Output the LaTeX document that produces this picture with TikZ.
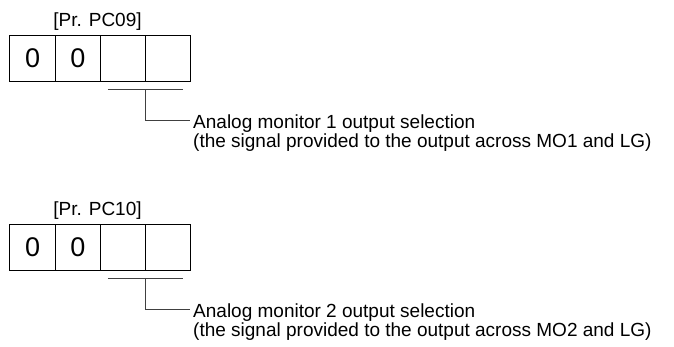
\documentclass[tikz,border=0pt]{standalone}
\usepackage{fontspec}
\setmainfont{Liberation Sans}
\usetikzlibrary{positioning}

\begin{document}
\begin{tikzpicture}[
        x=1pt, y=-1pt,
        node distance=0pt,
        every node/.style={font=\fontsize{19}{17.5}\selectfont},
        cell/.style={draw, line width=1pt, minimum width=45.25pt, minimum height=45.5pt, inner sep=0pt, outer sep=0pt, font=\fontsize{27}{27}\selectfont},
        wire/.style={line width=1pt, draw=black!75}
    ]
    \useasboundingbox (0,0) rectangle (674,346);
    \foreach \pnum/\oy/\mo in {09/0/1, 10/189/2} {
        % four digit cells
        \node[cell] (a\mo) at (32.6,58.5+\oy) {0};
        \node[cell, right=of a\mo] (b\mo) {0};
        \node[cell, right=of b\mo] (c\mo) {};
        \node[cell, right=of c\mo] (d\mo) {};
        \node[above=2pt of b\mo.north east, xshift=-3pt] (lbl\mo) {[Pr. PC\pnum]};
        % bar under the two right cells and the text it points to
        \coordinate (bl\mo) at ([xshift=7.5pt, yshift=-8pt]c\mo.south west);
        \coordinate (br\mo) at ([xshift=-8pt, yshift=-8pt]d\mo.south east);
        \coordinate (tap\mo) at (c\mo.south east |- bl\mo);
        \node[anchor=north west, align=left, inner sep=0pt] (txt\mo) at (193,115+\oy)
            {Analog monitor \mo{} output selection\\
             (the signal provided to the output across MO\mo{} and LG)};
        \draw[wire] (bl\mo) -- (br\mo);
        \draw[wire] (tap\mo) |- ([xshift=-3pt, yshift=-5pt]txt\mo.north west);
    }
\end{tikzpicture}
\end{document}
